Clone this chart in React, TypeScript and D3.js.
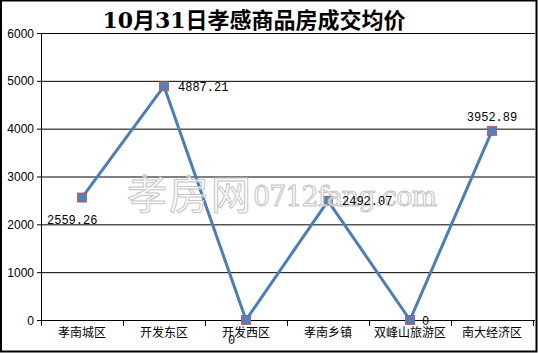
import React from "react";
import * as d3 from "d3";

const categories = ["孝南城区", "开发东区", "开发西区", "孝南乡镇", "双峰山旅游区", "南大经济区"];
const values = [2559.26, 4887.21, 0, 2492.07, 0, 3952.89];
const valueLabels = ["2559.26", "4887.21", "0", "2492.07", "0", "3952.89"];
const yTicks = [0, 1000, 2000, 3000, 4000, 5000, 6000];
const title = "10月31日孝感商品房成交均价";
// label placement: [dx, dy, anchor]
const labelPos: [number, number, string][] = [
  [-35, 26, "start"],
  [14, 5, "start"],
  [-18, 24, "start"],
  [14, 4, "start"],
  [12, 5, "start"],
  [0, -10, "middle"],
];

export default function App() {
  const W = 538, H = 353;
  const left = 41, right = 533, top = 33, bottom = 320;
  const x = d3.scaleBand<string>().domain(categories).range([left, right]);
  const y = d3.scaleLinear().domain([0, 6000]).range([bottom, top]);
  const line = d3
    .line<number>()
    .x((_, i) => (x(categories[i]) as number) + x.bandwidth() / 2)
    .y((d) => y(d));
  const cx = (i: number) => (x(categories[i]) as number) + x.bandwidth() / 2;
  const ticksX = categories.map((c) => x(c) as number).concat([right]);
  return (
    <svg width={W} height={H} style={{ position: "absolute", left: 0, top: 0 }}>
      <rect x={0} y={0} width={W} height={H} fill="#fff" />
      {yTicks.map((t) => (
        <g key={t}>
          <line x1={left} x2={right + 2} y1={y(t) + 0.5} y2={y(t) + 0.5} stroke="#000" strokeWidth={1} />
          <line x1={left - 4} x2={left} y1={y(t) + 0.5} y2={y(t) + 0.5} stroke="#000" />
          <text x={left - 7} y={y(t) + 4.5} textAnchor="end" fontFamily="Liberation Sans, Arial, sans-serif" fontSize={12}>
            {t}
          </text>
        </g>
      ))}
      <line x1={left + 0.5} x2={left + 0.5} y1={top} y2={bottom + 0.5} stroke="#000" />
      {ticksX.map((t, i) => (
        <line key={i} x1={t + 0.5} x2={t + 0.5} y1={bottom} y2={bottom + 6} stroke="#000" />
      ))}
      {categories.map((c, i) => (
        <text key={c} x={cx(i)} y={337} textAnchor="middle" fontFamily="Noto Sans CJK SC, sans-serif" fontSize={12}>
          {c}
        </text>
      ))}
      <path d={line(values) || ""} fill="none" stroke="#4a7ebb" strokeWidth={3} strokeLinejoin="round" />
      {values.map((v, i) => (
        <g key={i}>
          <rect x={cx(i) - 5} y={y(v) - 5} width={10} height={10} fill="#c0504d" opacity={0.9} />
          <circle cx={cx(i)} cy={y(v)} r={4.5} fill="#4f81bd" />
        </g>
      ))}
      <g fill="#fff" fillOpacity={0.6} stroke="#c4c4c4" strokeWidth={1}>
        <text x={127} y={209} fontFamily="Noto Sans CJK SC, sans-serif" fontSize={40} fontWeight="normal" letterSpacing={2}>
          孝房网
        </text>
        <text x={253} y={206} fontFamily="DejaVu Serif, serif" fontSize={27} letterSpacing={-1}>
          0712fang.com
        </text>
      </g>
      {values.map((v, i) => (
        <text
          key={"l" + i}
          x={cx(i) + labelPos[i][0]}
          y={y(v) + labelPos[i][1]}
          textAnchor={labelPos[i][2] as any}
          fontFamily="Liberation Mono, DejaVu Sans Mono, monospace"
          fontSize={12}
        >
          {valueLabels[i]}
        </text>
      ))}
      <text x={254} y={28} textAnchor="middle" fontFamily="DejaVu Serif, Noto Sans CJK SC, serif" fontWeight="bold" fontSize={22}>
        {title}
      </text>
      <rect x={1} y={0.5} width={W - 2.5} height={H - 2} fill="none" stroke="#000" strokeWidth={2} />
    </svg>
  );
}
